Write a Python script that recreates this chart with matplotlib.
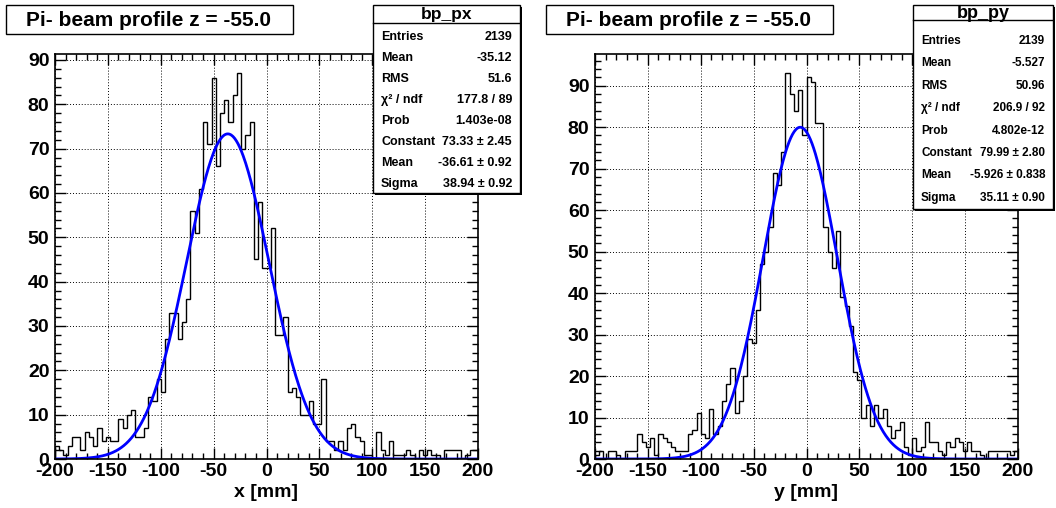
import numpy as np
import matplotlib
matplotlib.use("Agg")
import matplotlib.pyplot as plt
from matplotlib.patches import Rectangle
from matplotlib.lines import Line2D
from matplotlib.ticker import MultipleLocator

plt.rcParams['font.family'] = ['Liberation Sans', 'DejaVu Sans']
plt.rcParams['font.weight'] = 'bold'
plt.rcParams['axes.unicode_minus'] = False

# histogram binning: 100 bins from -200 to 200 mm
edges = np.linspace(-200, 200, 101)

# bp_px bin contents
px_counts = [3, 2, 1, 3, 5, 5, 2, 6, 5, 3, 7, 4, 5, 4, 4, 9, 7, 10, 11, 5, 5, 7, 14, 13, 18,
             15, 27, 33, 33, 27, 31, 36, 56, 51, 61, 76, 71, 86, 66, 78, 81, 76, 82, 87, 70, 73, 76, 45, 58, 43,
             43, 52, 28, 28, 32, 15, 16, 14, 10, 10, 13, 8, 8, 18,
             4, 4, 2, 4, 2, 7, 8, 5, 4, 1, 1, 0, 6, 2, 1, 4, 1, 1, 1, 2, 1, 0, 2, 1, 2, 1, 1, 0, 2, 2, 2, 2, 0, 1, 2, 2]

# bp_py bin contents
py_counts = [1, 2, 0, 2, 2, 1, 0, 2, 2, 2, 6, 4, 3, 5, 1, 6, 5, 4, 3, 2, 2, 2, 6, 7, 11, 6, 5, 12, 6, 8,
             14, 18, 22, 11, 14, 20, 29, 28, 36, 47, 50, 56, 69, 66, 74, 93, 88, 84,
             89, 78, 92, 91, 81, 81, 56, 50, 46, 55, 39, 37,
             32, 21, 19, 10, 13, 8, 13, 10, 12, 8, 5, 7, 9, 3, 1, 5, 2, 3, 9, 4, 4, 2, 1, 4, 3, 5, 4, 2, 4, 2,
             2, 1, 0, 2, 2, 2, 2, 2, 1, 2]

# gaussian fit parameters (constant, mean, sigma)
px_fit = (73.33, -36.61, 38.94)
py_fit = (79.99, -5.926, 35.11)

title = "Pi- beam profile z = -55.0"
px_stats = [("Entries", "2139"), ("Mean", "-35.12"), ("RMS", "51.6"),
            ("χ² / ndf", "177.8 / 89"), ("Prob", "1.403e-08"),
            ("Constant", "73.33 ± 2.45"), ("Mean", "-36.61 ± 0.92"), ("Sigma", "38.94 ± 0.92")]
py_stats = [("Entries", "2139"), ("Mean", "-5.527"), ("RMS", "50.96"),
            ("χ² / ndf", "206.9 / 92"), ("Prob", "4.802e-12"),
            ("Constant", "79.99 ± 2.80"), ("Mean", "-5.926 ± 0.838"), ("Sigma", "35.11 ± 0.90")]

W, H = 1056, 508
fig = plt.figure(figsize=(W / 100, H / 100), dpi=100)


def fx(px):
    return px / W


def fy(py):
    return 1 - py / H


def draw_panel(x0, counts, fit, xlabel):
    ax = fig.add_axes([fx(x0), fy(459), 423 / W, 405 / H])
    ax.stairs(counts, edges, color='black', lw=1.0, baseline=0)
    xs = np.linspace(-200, 200, 500)
    c, m, s = fit
    ax.plot(xs, c * np.exp(-0.5 * ((xs - m) / s) ** 2), color='#0000ff', lw=2)
    ax.set_xlim(-200, 200)
    ax.set_ylim(0, 1.05 * max(counts))
    ax.xaxis.set_major_locator(MultipleLocator(50))
    ax.xaxis.set_minor_locator(MultipleLocator(10))
    ax.yaxis.set_major_locator(MultipleLocator(10))
    ax.yaxis.set_minor_locator(MultipleLocator(2))
    ax.tick_params(which='both', direction='in', top=True, right=True, width=1, color='black')
    ax.tick_params(which='major', length=8)
    ax.tick_params(which='minor', length=4)
    ax.tick_params(axis='x', pad=3, labelsize=14)
    ax.tick_params(axis='y', pad=4, labelsize=14)
    for lab in ax.get_xticklabels() + ax.get_yticklabels():
        lab.set_fontweight('bold')
    ax.grid(True, which='major', color='black', lw=0.7, linestyle=(0, (1, 2)))
    for sp in ax.spines.values():
        sp.set_linewidth(1.2)
    ax.set_xlabel(xlabel, fontsize=14, fontweight='bold', labelpad=3)
    return ax


def draw_box(x0, y0, x1, y1, lw=1.0, shadow=False):
    if shadow:
        fig.patches.append(Rectangle((fx(x0 + 2), fy(y1 + 2)), (x1 - x0) / W, (y1 - y0) / H,
                                     transform=fig.transFigure, facecolor='black',
                                     edgecolor='black', lw=0, zorder=9))
    fig.patches.append(Rectangle((fx(x0), fy(y1)), (x1 - x0) / W, (y1 - y0) / H,
                                 transform=fig.transFigure, facecolor='white',
                                 edgecolor='black', lw=lw, zorder=10))


def draw_stats(x0, x1, y1, name, rows, ysep, ystart, dy, fs, hfs):
    draw_box(x0, 5, x1, y1, shadow=True)
    fig.text(fx((x0 + x1) / 2), fy((5 + ysep) / 2 + 1), name, ha='center', va='center',
             fontsize=hfs, fontweight='bold', zorder=11)
    fig.lines.append(Line2D([fx(x0), fx(x1)], [fy(ysep), fy(ysep)], transform=fig.transFigure,
                            color='black', lw=1.0, zorder=11))
    for i, (k, v) in enumerate(rows):
        yy = fy(ystart + i * dy)
        fig.text(fx(x0 + 8), yy, k, ha='left', va='center', fontsize=fs,
                 fontweight='bold', zorder=11)
        fig.text(fx(x1 - 8), yy, v, ha='right', va='center', fontsize=fs,
                 fontweight='bold', zorder=11)


ax1 = draw_panel(55, px_counts, px_fit, "x [mm]")
ax2 = draw_panel(595, py_counts, py_fit, "y [mm]")

# title boxes
for off in (0, 540):
    draw_box(6 + off, 5, 293 + off, 34)
    fig.text(fx(149 + off), fy(20), title, ha='center', va='center',
             fontsize=15, fontweight='bold', zorder=11)

draw_stats(373, 520, 193, "bp_px", px_stats, 23, 37, 21.0, 9, 12.5)
draw_stats(913, 1053, 209, "bp_py", py_stats, 20, 41, 22.4, 8.5, 13)

fig.savefig("out.png", dpi=100)
